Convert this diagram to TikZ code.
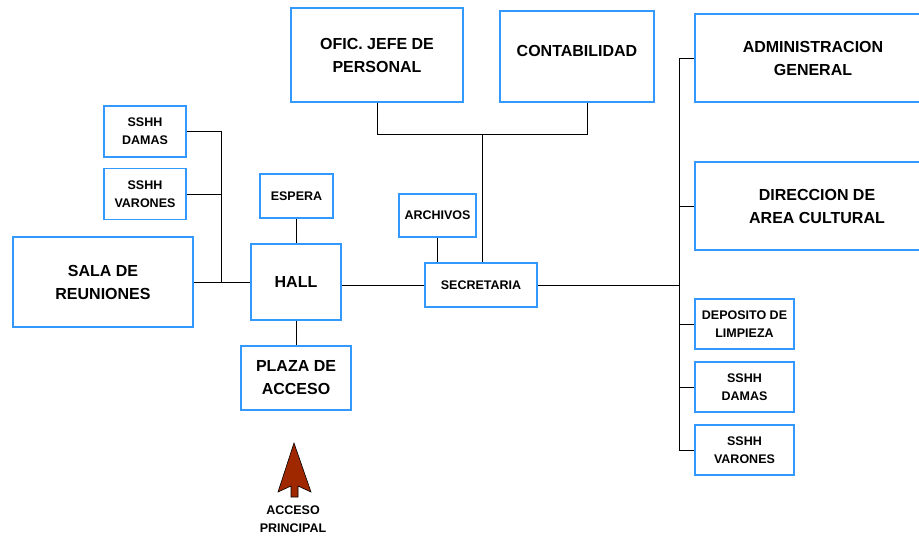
\documentclass[tikz,border=0pt]{standalone}
\usepackage{fontspec}
\setmainfont{Liberation Sans}
\usepackage{xcolor}
\usetikzlibrary{positioning,calc}

\definecolor{boxblue}{RGB}{51,153,255}
\definecolor{arrowred}{RGB}{160,40,0}

\tikzset{
  bigbox/.style={rectangle,draw=boxblue,line width=1.1pt,align=center,inner sep=0pt,
    font=\bfseries\fontsize{16}{23}\selectfont},
  smallbox/.style={rectangle,draw=boxblue,line width=1.1pt,align=center,inner sep=0pt,
    font=\bfseries\fontsize{12.5}{18}\selectfont},
  link/.style={draw=black,line width=0.9pt}
}

\begin{document}
\begin{tikzpicture}[x=1pt,y=-1pt]
\useasboundingbox (0,0) rectangle (919,538);

% Left wing
\node[smallbox,minimum width=82pt,minimum height=51pt] (damasL) at (145,131.5) {SSHH\\DAMAS};
\node[smallbox,minimum width=82pt,minimum height=51pt] (varonesL) at (145,194) {SSHH\\VARONES};
\node[bigbox,minimum width=180pt,minimum height=90pt] (sala) at (103,282) {SALA DE\\REUNIONES};

% Hall
\node[smallbox,minimum width=73pt,minimum height=44pt] (espera) at (296.5,196) {ESPERA};
\node[bigbox,minimum width=90pt,minimum height=76pt] (hall) at (296,282) {HALL};
\node[bigbox,minimum width=110pt,minimum height=64pt] (plaza) at (296,378) {PLAZA DE\\ACCESO};

% Secretaria and offices
\node[smallbox,minimum width=77pt,minimum height=43pt] (archivos) at (437.5,215.5) {ARCHIVOS};
\node[smallbox,minimum width=112pt,minimum height=44pt] (secretaria) at (481,285) {SECRETARIA};
\node[bigbox,minimum width=172pt,minimum height=94pt] (ofic) at (377,55) {OFIC. JEFE DE\\PERSONAL};
\node[bigbox,minimum width=154pt,minimum height=91pt,
  label={[font=\bfseries\fontsize{16}{23}\selectfont,yshift=6pt]center:CONTABILIDAD}] (contab) at (577,56.5) {};

% Right wing
\node[bigbox,minimum width=236pt,minimum height=88pt] (admin) at (813,58) {ADMINISTRACION\\GENERAL};
\node[bigbox,minimum width=236pt,minimum height=88pt] (direccion) at (813,206) {\hspace*{8pt}DIRECCION DE\\\hspace*{8pt}AREA CULTURAL};
\node[smallbox,minimum width=99pt,minimum height=50pt] (deposito) at (744.5,324) {DEPOSITO DE\\LIMPIEZA};
\node[smallbox,minimum width=99pt,minimum height=50pt] (damasR) at (744.5,387) {SSHH\\DAMAS};
\node[smallbox,minimum width=99pt,minimum height=50pt] (varonesR) at (744.5,450) {SSHH\\VARONES};

% Access arrow
\filldraw[fill=arrowred,draw=black,line width=0.6pt]
  (294,443) -- (311,492) -- (298,486) -- (298,497) -- (291,497) -- (291,486) -- (278,492) -- cycle;
\node[font=\bfseries\fontsize{12.5}{18}\selectfont,align=center] (acceso) at (293,519) {ACCESO\\PRINCIPAL};

% Connections
\coordinate (busL) at (221.5,282);
\coordinate (busT) at (482,134);
\coordinate (busR) at (679,285);

\draw[link] (sala.east) -- (hall.west);
\draw[link] (damasL.east) -| (busL);
\draw[link] (varonesL.east) -| (busL);
\draw[link] (espera.south -| hall.north) -- (hall.north);
\draw[link] (hall.south) -- (plaza.north);
\draw[link] (hall.east |- secretaria.west) -- (secretaria.west);
\draw[link] (archivos.south) -- (archivos.south |- secretaria.north);
\draw[link] (secretaria.north -| busT) -- (busT);
\draw[link] (ofic.south) |- ([xshift=10pt]contab.south |- busT) -- ([xshift=10pt]contab.south);
\draw[link] (secretaria.east) -- (busR);
\draw[link] (admin.west) -| (busR);
\draw[link] (direccion.west) -| (busR);
\draw[link] (deposito.west) -| (busR);
\draw[link] (damasR.west) -| (busR);
\draw[link] (varonesR.west) -| (busR);

\end{tikzpicture}
\end{document}
